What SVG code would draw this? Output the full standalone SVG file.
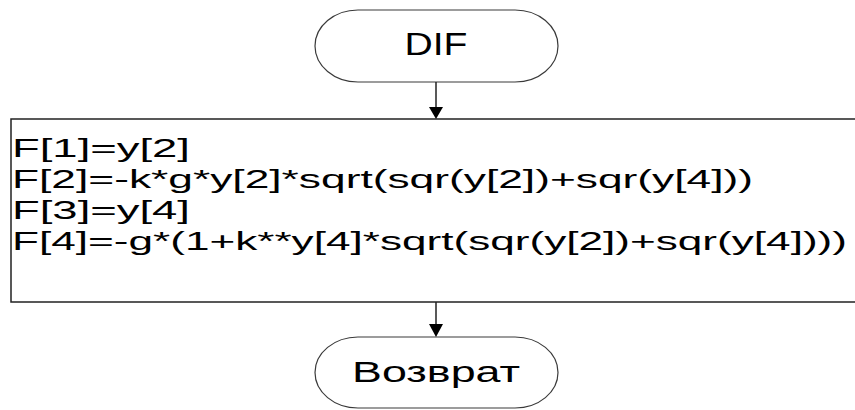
<svg xmlns="http://www.w3.org/2000/svg" width="855" height="410" viewBox="0 0 855 410">
  <style>
    .term { fill: #ffffff; stroke: #3a3a3a; stroke-width: 1.2; }
    .proc { fill: #ffffff; stroke: #222222; stroke-width: 1.5; }
    .lbl { font-family: "Liberation Sans", Arial, sans-serif; fill: #000000; }
    .code { font-family: "Liberation Sans", Arial, sans-serif; font-size: 26px; fill: #000000; }
    .edge { stroke: #222222; stroke-width: 1.5; fill: none; }
  </style>
  <defs>
    <marker id="arrow" viewBox="0 0 12 12" refX="6" refY="12" markerWidth="12" markerHeight="12" markerUnits="userSpaceOnUse" orient="auto-start-reverse">
      <path d="M0,0 L12,0 L6,12 Z" fill="#000000" transform="rotate(-90 6 6)"/>
    </marker>
  </defs>
  <rect width="855" height="410" fill="#ffffff"/>

  <g id="start">
    <rect class="term" x="315" y="10" width="243" height="72" rx="43" ry="36"/>
    <text class="lbl" x="436" y="55" font-size="31" text-anchor="middle" textLength="63" lengthAdjust="spacingAndGlyphs">DIF</text>
  </g>

  <g id="compute">
    <path class="proc" d="M870,119 L11,119 L11,302 L870,302"/>
    <text class="code" x="12" y="157" textLength="178" lengthAdjust="spacingAndGlyphs">F[1]=y[2]</text>
    <text class="code" x="12" y="188" textLength="741" lengthAdjust="spacingAndGlyphs">F[2]=-k*g*y[2]*sqrt(sqr(y[2])+sqr(y[4]))</text>
    <text class="code" x="12" y="219" textLength="178" lengthAdjust="spacingAndGlyphs">F[3]=y[4]</text>
    <text class="code" x="12" y="250" textLength="835" lengthAdjust="spacingAndGlyphs">F[4]=-g*(1+k**y[4]*sqrt(sqr(y[2])+sqr(y[4])))</text>
  </g>

  <g id="end">
    <rect class="term" x="315" y="337" width="243" height="71" rx="43" ry="35.5"/>
    <text class="lbl" x="436" y="382" font-size="30" text-anchor="middle" textLength="168" lengthAdjust="spacingAndGlyphs">Возврат</text>
  </g>

  <g id="connectors">
    <line class="edge" x1="436" y1="82" x2="436" y2="107"/>
    <path d="M429,107 L443,107 L436,119 Z" fill="#000000"/>
    <line class="edge" x1="436" y1="302" x2="436" y2="324"/>
    <path d="M429,324 L443,324 L436,337 Z" fill="#000000"/>
  </g>
</svg>
